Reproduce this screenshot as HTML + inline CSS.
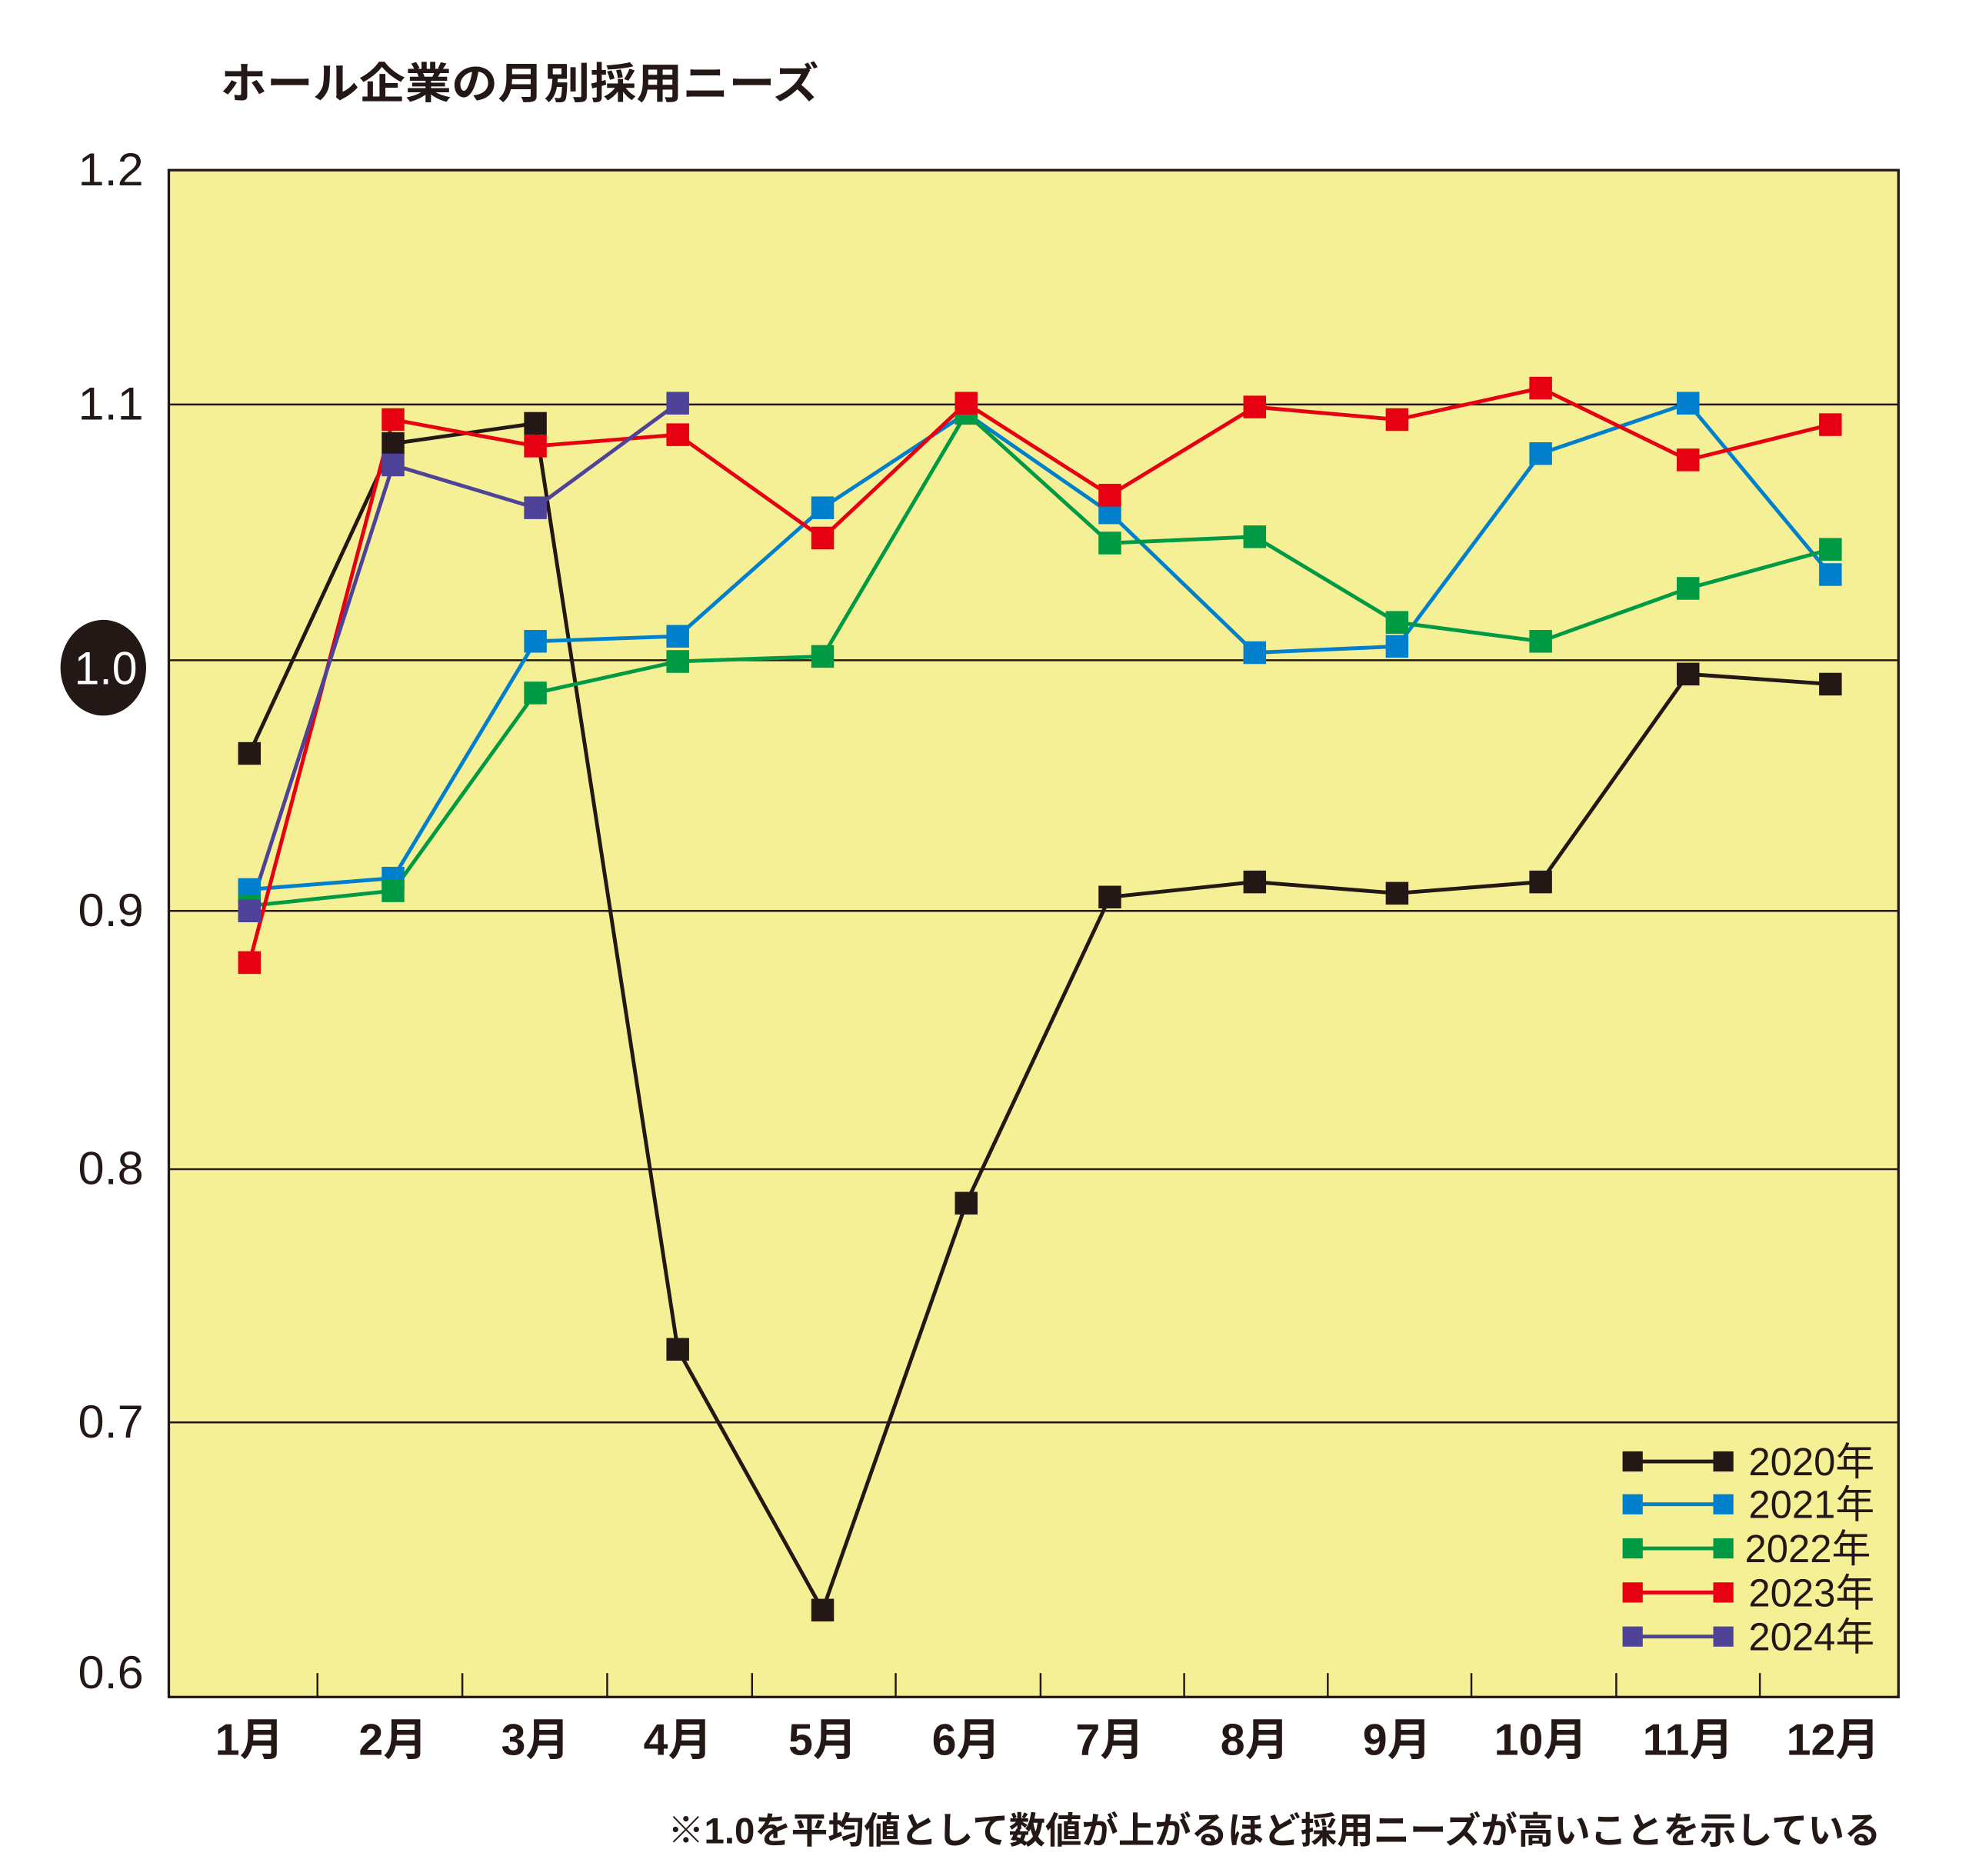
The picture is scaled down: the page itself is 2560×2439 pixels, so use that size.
<!DOCTYPE html>
<html><head><meta charset="utf-8"><style>html,body{margin:0;padding:0;background:#fff}svg{display:block}</style></head>
<body>
<svg width="2560" height="2439" viewBox="0 0 1563 1489" xmlns="http://www.w3.org/2000/svg" font-family="'Liberation Sans','Noto Sans CJK JP',sans-serif">
<rect x="0" y="0" width="1563" height="1489" fill="#fff"/>
<text x="175" y="78" font-size="34" font-weight="bold" fill="#231815" textLength="475" lengthAdjust="spacingAndGlyphs">ホール企業の月別採用ニーズ</text>
<rect x="134" y="135" width="1373" height="1212" fill="#f5f095" stroke="#231815" stroke-width="2"/>
<g stroke="#231815" stroke-width="1.5">
<line x1="134" y1="321" x2="1507" y2="321"/>
<line x1="134" y1="524" x2="1507" y2="524"/>
<line x1="134" y1="723" x2="1507" y2="723"/>
<line x1="134" y1="928" x2="1507" y2="928"/>
<line x1="134" y1="1129" x2="1507" y2="1129"/>
<line x1="252" y1="1328" x2="252" y2="1347"/><line x1="367" y1="1328" x2="367" y2="1347"/>
<line x1="482" y1="1328" x2="482" y2="1347"/><line x1="597" y1="1328" x2="597" y2="1347"/>
<line x1="711" y1="1328" x2="711" y2="1347"/><line x1="826" y1="1328" x2="826" y2="1347"/>
<line x1="940" y1="1328" x2="940" y2="1347"/><line x1="1054" y1="1328" x2="1054" y2="1347"/>
<line x1="1168" y1="1328" x2="1168" y2="1347"/><line x1="1283" y1="1328" x2="1283" y2="1347"/>
<line x1="1397" y1="1328" x2="1397" y2="1347"/>
</g>
<g font-size="37" fill="#231815" text-anchor="end">
<text x="114" y="147" textLength="52" lengthAdjust="spacingAndGlyphs">1.2</text>
<text x="114" y="333" textLength="52" lengthAdjust="spacingAndGlyphs">1.1</text>
<text x="114" y="735" textLength="52" lengthAdjust="spacingAndGlyphs">0.9</text>
<text x="114" y="940" textLength="52" lengthAdjust="spacingAndGlyphs">0.8</text>
<text x="114" y="1141" textLength="52" lengthAdjust="spacingAndGlyphs">0.7</text>
<text x="114" y="1340" textLength="52" lengthAdjust="spacingAndGlyphs">0.6</text>
</g>
<ellipse cx="82" cy="530" rx="34" ry="38" fill="#231815"/>
<text x="84" y="543" font-size="37" fill="#fff" text-anchor="middle" textLength="50" lengthAdjust="spacingAndGlyphs">1.0</text>
<g font-size="35" font-weight="bold" fill="#231815" text-anchor="middle">
<text x="198" y="1393">1月</text><text x="312" y="1393">2月</text><text x="425" y="1393">3月</text>
<text x="538" y="1393">4月</text><text x="653" y="1393">5月</text><text x="767" y="1393">6月</text>
<text x="881" y="1393">7月</text><text x="996" y="1393">8月</text><text x="1109" y="1393">9月</text>
<text x="1223" y="1393">10月</text><text x="1340" y="1393">11月</text><text x="1455" y="1393">12月</text>
</g>
<text x="530" y="1463" font-size="29" font-weight="bold" fill="#231815" textLength="963" lengthAdjust="spacingAndGlyphs">※1.0を平均値として数値が上がるほど採用ニーズが高いことを示している</text>
<g fill="none" stroke-width="3" stroke-linejoin="round">
<polyline stroke="#231815" points="198,598 312,352 425,336 538,1071 653,1278 767,955 881,712 996,700 1109,709 1223,700 1340,535 1453,543"/>
<polyline stroke="#0080cc" points="198,706 312,697 425,509 538,505 653,403 767,328 881,407 996,518 1109,513 1223,360 1340,320 1453,456"/>
<polyline stroke="#009944" points="198,719 312,707 425,550 538,525 653,521 767,328 881,431 996,426 1109,494 1223,509 1340,467 1453,436"/>
<polyline stroke="#e60012" points="198,764 312,333 425,354 538,345 653,427 767,320 881,393 996,323 1109,333 1223,308 1340,365 1453,337"/>
<polyline stroke="#4e4398" points="198,723 312,369 425,403 538,320"/>
</g>
<g fill="#231815"><rect x="189" y="589" width="18" height="18"/><rect x="303" y="343" width="18" height="18"/><rect x="416" y="327" width="18" height="18"/><rect x="529" y="1062" width="18" height="18"/><rect x="644" y="1269" width="18" height="18"/><rect x="758" y="946" width="18" height="18"/><rect x="872" y="703" width="18" height="18"/><rect x="987" y="691" width="18" height="18"/><rect x="1100" y="700" width="18" height="18"/><rect x="1214" y="691" width="18" height="18"/><rect x="1331" y="526" width="18" height="18"/><rect x="1444" y="534" width="18" height="18"/></g>
<g fill="#0080cc"><rect x="189" y="697" width="18" height="18"/><rect x="303" y="688" width="18" height="18"/><rect x="416" y="500" width="18" height="18"/><rect x="529" y="496" width="18" height="18"/><rect x="644" y="394" width="18" height="18"/><rect x="758" y="319" width="18" height="18"/><rect x="872" y="398" width="18" height="18"/><rect x="987" y="509" width="18" height="18"/><rect x="1100" y="504" width="18" height="18"/><rect x="1214" y="351" width="18" height="18"/><rect x="1331" y="311" width="18" height="18"/><rect x="1444" y="447" width="18" height="18"/></g>
<g fill="#009944"><rect x="189" y="710" width="18" height="18"/><rect x="303" y="698" width="18" height="18"/><rect x="416" y="541" width="18" height="18"/><rect x="529" y="516" width="18" height="18"/><rect x="644" y="512" width="18" height="18"/><rect x="758" y="319" width="18" height="18"/><rect x="872" y="422" width="18" height="18"/><rect x="987" y="417" width="18" height="18"/><rect x="1100" y="485" width="18" height="18"/><rect x="1214" y="500" width="18" height="18"/><rect x="1331" y="458" width="18" height="18"/><rect x="1444" y="427" width="18" height="18"/></g>
<g fill="#e60012"><rect x="189" y="755" width="18" height="18"/><rect x="303" y="324" width="18" height="18"/><rect x="416" y="345" width="18" height="18"/><rect x="529" y="336" width="18" height="18"/><rect x="644" y="418" width="18" height="18"/><rect x="758" y="311" width="18" height="18"/><rect x="872" y="384" width="18" height="18"/><rect x="987" y="314" width="18" height="18"/><rect x="1100" y="324" width="18" height="18"/><rect x="1214" y="299" width="18" height="18"/><rect x="1331" y="356" width="18" height="18"/><rect x="1444" y="328" width="18" height="18"/></g>
<g fill="#4e4398"><rect x="189" y="714" width="18" height="18"/><rect x="303" y="360" width="18" height="18"/><rect x="416" y="394" width="18" height="18"/><rect x="529" y="311" width="18" height="18"/></g>
<g stroke-width="3">
<line x1="1296" y1="1160" x2="1368" y2="1160" stroke="#231815"/>
<line x1="1296" y1="1194" x2="1368" y2="1194" stroke="#0080cc"/>
<line x1="1296" y1="1229" x2="1368" y2="1229" stroke="#009944"/>
<line x1="1296" y1="1264" x2="1368" y2="1264" stroke="#e60012"/>
<line x1="1296" y1="1299" x2="1368" y2="1299" stroke="#4e4398"/>
</g>
<g>
<rect x="1288" y="1152" width="16" height="16" fill="#231815"/><rect x="1360" y="1152" width="16" height="16" fill="#231815"/>
<rect x="1288" y="1186" width="16" height="16" fill="#0080cc"/><rect x="1360" y="1186" width="16" height="16" fill="#0080cc"/>
<rect x="1288" y="1221" width="16" height="16" fill="#009944"/><rect x="1360" y="1221" width="16" height="16" fill="#009944"/>
<rect x="1288" y="1256" width="16" height="16" fill="#e60012"/><rect x="1360" y="1256" width="16" height="16" fill="#e60012"/>
<rect x="1288" y="1291" width="16" height="16" fill="#4e4398"/><rect x="1360" y="1291" width="16" height="16" fill="#4e4398"/>
</g>
<g font-size="31" fill="#231815">
<text x="1388" y="1171" textLength="100" lengthAdjust="spacingAndGlyphs">2020年</text>
<text x="1388" y="1205" textLength="100" lengthAdjust="spacingAndGlyphs">2021年</text>
<text x="1385" y="1240" textLength="100" lengthAdjust="spacingAndGlyphs">2022年</text>
<text x="1388" y="1275" textLength="100" lengthAdjust="spacingAndGlyphs">2023年</text>
<text x="1388" y="1310" textLength="100" lengthAdjust="spacingAndGlyphs">2024年</text>
</g>
</svg>
</body></html>
